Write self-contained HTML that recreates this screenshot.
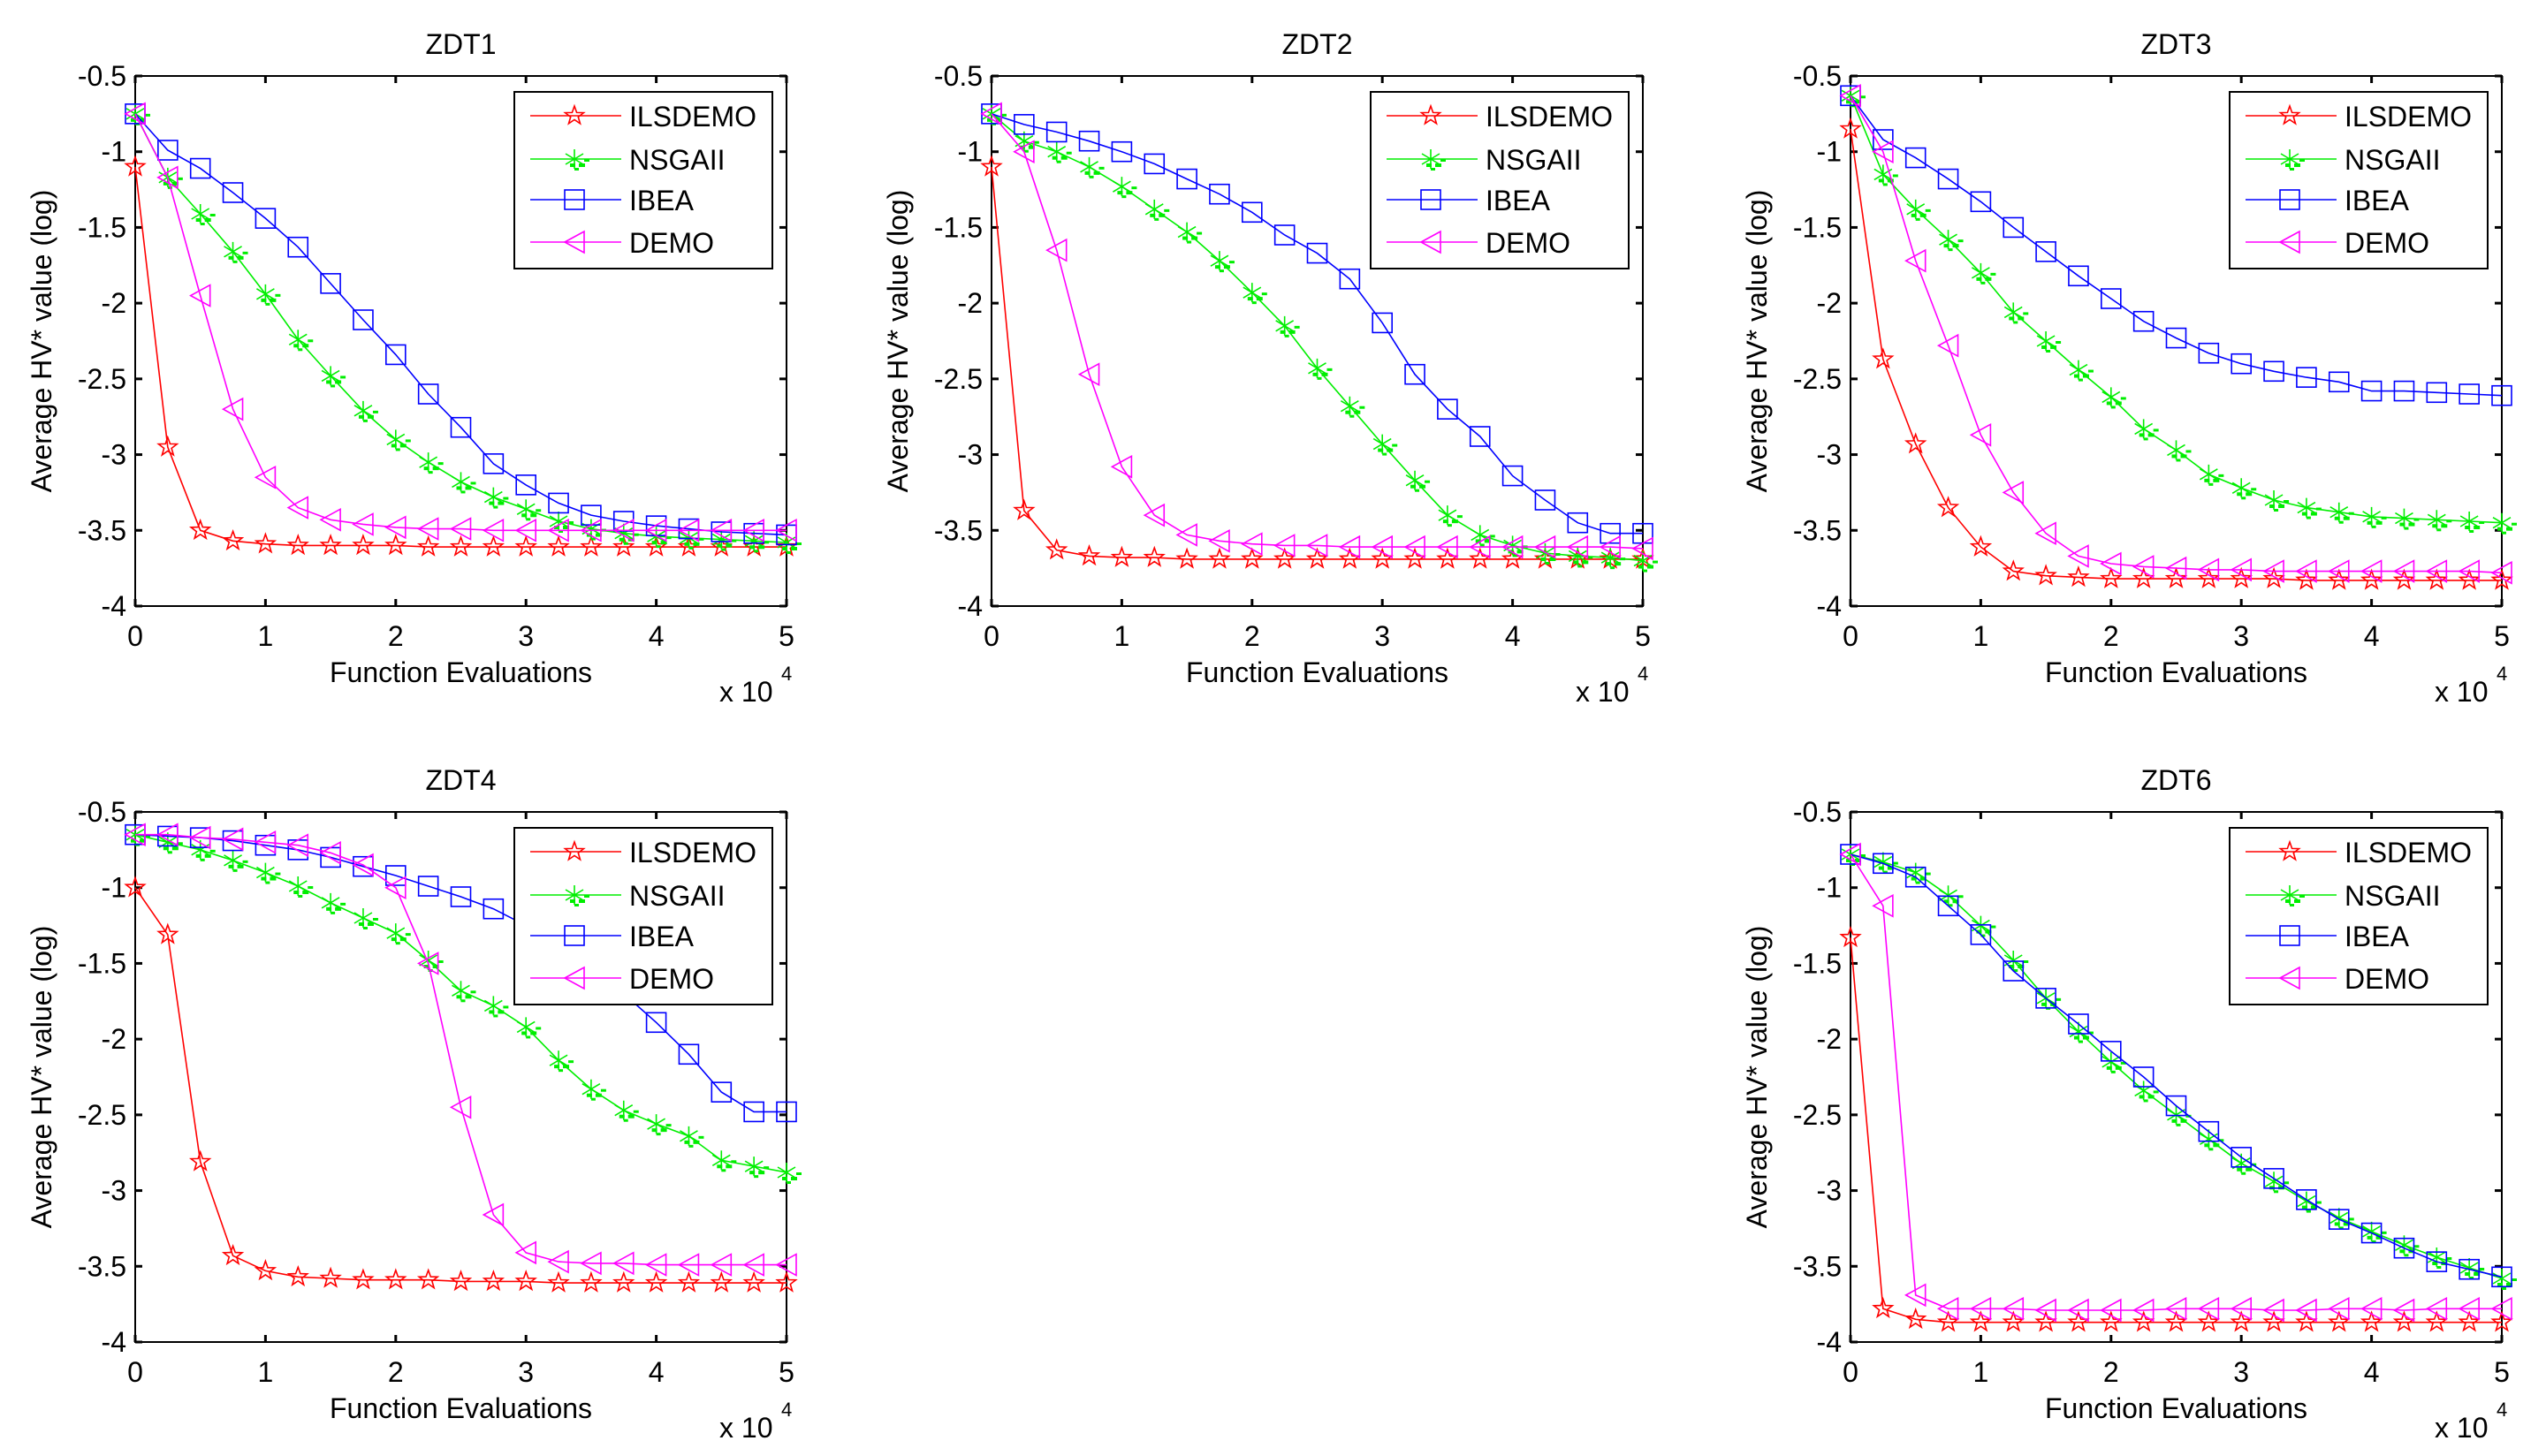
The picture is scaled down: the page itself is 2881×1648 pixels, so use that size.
<!DOCTYPE html>
<html><head><meta charset="utf-8">
<style>
html,body{margin:0;padding:0;background:#fff;}
svg{display:block;font-family:"Liberation Sans",Arial,sans-serif;}
</style></head>
<body>
<svg id="fig" width="2881" height="1648" viewBox="0 0 2881 1648" xmlns="http://www.w3.org/2000/svg"></svg>
<script>
const xEvals = [0,2500,5000,7500,10000,12500,15000,17500,20000,22500,25000,27500,30000,32500,35000,37500,40000,42500,45000,47500,50000];
const seriesNames = ["ILSDEMO","NSGAII","IBEA","DEMO"];
const xTicks = [0,1,2,3,4,5];
const yTicks = [-0.5,-1,-1.5,-2,-2.5,-3,-3.5,-4];
const yTickLabels = ["-0.5","-1","-1.5","-2","-2.5","-3","-3.5","-4"];

const zdt1_ils  = [-1.1,-2.95,-3.5,-3.57,-3.59,-3.6,-3.6,-3.6,-3.6,-3.61,-3.61,-3.61,-3.61,-3.61,-3.61,-3.61,-3.61,-3.61,-3.61,-3.61,-3.61];
const zdt1_nsga = [-0.75,-1.17,-1.41,-1.66,-1.94,-2.24,-2.48,-2.71,-2.9,-3.05,-3.18,-3.28,-3.36,-3.44,-3.49,-3.52,-3.54,-3.55,-3.56,-3.57,-3.58];
const zdt1_ibea = [-0.75,-0.99,-1.11,-1.27,-1.44,-1.63,-1.87,-2.11,-2.34,-2.6,-2.82,-3.06,-3.2,-3.32,-3.4,-3.44,-3.47,-3.49,-3.51,-3.52,-3.53];
const zdt1_demo = [-0.75,-1.17,-1.95,-2.7,-3.15,-3.35,-3.43,-3.46,-3.48,-3.49,-3.49,-3.5,-3.5,-3.5,-3.5,-3.5,-3.5,-3.5,-3.5,-3.5,-3.5];

const zdt2_ils  = [-1.1,-3.37,-3.63,-3.67,-3.68,-3.68,-3.69,-3.69,-3.69,-3.69,-3.69,-3.69,-3.69,-3.69,-3.69,-3.69,-3.69,-3.69,-3.69,-3.69,-3.69];
const zdt2_nsga = [-0.75,-0.93,-1.0,-1.1,-1.23,-1.38,-1.53,-1.72,-1.93,-2.15,-2.43,-2.68,-2.93,-3.17,-3.4,-3.53,-3.6,-3.65,-3.67,-3.68,-3.7];
const zdt2_ibea = [-0.75,-0.82,-0.87,-0.93,-1.0,-1.08,-1.18,-1.28,-1.4,-1.55,-1.67,-1.84,-2.13,-2.47,-2.7,-2.88,-3.14,-3.3,-3.45,-3.52,-3.52];
const zdt2_demo = [-0.75,-1.0,-1.65,-2.47,-3.08,-3.4,-3.53,-3.57,-3.59,-3.6,-3.6,-3.61,-3.61,-3.61,-3.61,-3.61,-3.61,-3.61,-3.61,-3.61,-3.62];

const zdt3_ils  = [-0.85,-2.37,-2.93,-3.35,-3.61,-3.77,-3.8,-3.81,-3.82,-3.82,-3.82,-3.82,-3.82,-3.82,-3.83,-3.83,-3.83,-3.83,-3.83,-3.83,-3.83];
const zdt3_nsga = [-0.63,-1.15,-1.38,-1.58,-1.8,-2.06,-2.25,-2.44,-2.62,-2.83,-2.97,-3.13,-3.22,-3.3,-3.35,-3.38,-3.41,-3.42,-3.43,-3.44,-3.45];
const zdt3_ibea = [-0.63,-0.92,-1.04,-1.18,-1.33,-1.5,-1.66,-1.82,-1.97,-2.12,-2.23,-2.33,-2.4,-2.45,-2.49,-2.52,-2.58,-2.58,-2.59,-2.6,-2.61];
const zdt3_demo = [-0.63,-1.0,-1.72,-2.28,-2.87,-3.25,-3.52,-3.67,-3.72,-3.74,-3.75,-3.76,-3.76,-3.77,-3.77,-3.77,-3.77,-3.77,-3.77,-3.77,-3.78];

const zdt4_ils  = [-1.0,-1.31,-2.81,-3.43,-3.53,-3.57,-3.58,-3.59,-3.59,-3.59,-3.6,-3.6,-3.6,-3.61,-3.61,-3.61,-3.61,-3.61,-3.61,-3.61,-3.61];
const zdt4_nsga = [-0.65,-0.7,-0.75,-0.82,-0.9,-0.99,-1.1,-1.2,-1.3,-1.48,-1.68,-1.78,-1.92,-2.14,-2.33,-2.47,-2.56,-2.64,-2.8,-2.84,-2.88];
const zdt4_ibea = [-0.65,-0.66,-0.67,-0.69,-0.72,-0.75,-0.8,-0.86,-0.92,-0.99,-1.06,-1.14,-1.25,-1.38,-1.52,-1.7,-1.89,-2.1,-2.35,-2.48,-2.48];
const zdt4_demo = [-0.65,-0.65,-0.67,-0.68,-0.7,-0.72,-0.77,-0.85,-1.0,-1.5,-2.45,-3.16,-3.41,-3.47,-3.48,-3.48,-3.49,-3.49,-3.49,-3.49,-3.49];

const zdt6_ils  = [-1.33,-3.78,-3.85,-3.87,-3.87,-3.87,-3.87,-3.87,-3.87,-3.87,-3.87,-3.87,-3.87,-3.87,-3.87,-3.87,-3.87,-3.87,-3.87,-3.87,-3.87];
const zdt6_nsga = [-0.78,-0.83,-0.9,-1.05,-1.25,-1.48,-1.73,-1.95,-2.15,-2.34,-2.5,-2.66,-2.82,-2.94,-3.07,-3.18,-3.27,-3.36,-3.44,-3.51,-3.58];
const zdt6_ibea = [-0.78,-0.84,-0.93,-1.12,-1.31,-1.55,-1.73,-1.9,-2.08,-2.25,-2.44,-2.61,-2.78,-2.92,-3.06,-3.19,-3.28,-3.38,-3.47,-3.52,-3.57];
const zdt6_demo = [-0.78,-1.12,-3.69,-3.78,-3.78,-3.78,-3.79,-3.79,-3.79,-3.79,-3.78,-3.78,-3.78,-3.79,-3.79,-3.78,-3.78,-3.79,-3.78,-3.78,-3.78];

const plotTitles = ["ZDT1","ZDT2","ZDT3","ZDT4","ZDT6"];

const NS="http://www.w3.org/2000/svg";
const svg=document.getElementById('fig');
function mk(tag,attrs,parent){const e=document.createElementNS(NS,tag);for(const k in attrs)e.setAttribute(k,attrs[k]);(parent||svg).appendChild(e);return e;}
const colors=["#ff0000","#00ee00","#0000ff","#ff00ff"];
const W=737,H=600;

function marker(g,kind,cx,cy){
  const c=colors[kind];
  if(kind===0){
    let pts=[];for(let i=0;i<10;i++){const r=i%2?4.5:11;const a=-Math.PI/2+i*Math.PI/5;pts.push((cx+r*Math.cos(a)).toFixed(1)+","+(cy+r*Math.sin(a)).toFixed(1));}
    const m=mk('polygon',{points:pts.join(' '),fill:'none',stroke:c,'stroke-width':1.6},g);
    
    
  } else if(kind===1){
    const m=mk('path',{d:`M${cx} ${cy-11}V${cy+11}M${cx-10} ${cy-6}L${cx+10} ${cy+6}M${cx-10} ${cy+6}L${cx+10} ${cy-6}`,stroke:c,'stroke-width':1.6,fill:'none'},g);
    
    
    mk('rect',{x:cx-5,y:cy+5,width:6,height:4,fill:c},g);
    mk('rect',{x:cx+5,y:cy+5,width:7,height:4,fill:c},g);
    mk('rect',{x:cx+11,y:cy+0,width:6,height:3,fill:c},g);
    mk('rect',{x:cx+0,y:cy+10,width:5,height:3,fill:c},g);
  } else if(kind===2){
    const m=mk('rect',{x:cx-11,y:cy-11,width:22,height:22,fill:'none',stroke:c,'stroke-width':1.6},g);
    
    
  } else {
    const m=mk('polygon',{points:`${cx-11},${cy} ${cx+11},${cy-12} ${cx+11},${cy+12}`,fill:'none',stroke:c,'stroke-width':1.6},g);
    
    
  }
}

function drawPlot(idx,left,top,series){
  const g=mk('g',{});
  
  
  const xs=v=>left+v/50000*W;
  const ys=v=>top+(v-(-0.5))/(-3.5)*H;
  const box=mk('rect',{x:left,y:top,width:W,height:H,fill:'none',stroke:'#000','stroke-width':2},g);
  
  
  xTicks.forEach(t=>{
    const x=xs(t*10000);
    mk('line',{x1:x,y1:top+H,x2:x,y2:top+H-8,stroke:'#000','stroke-width':3},g);
    mk('line',{x1:x,y1:top,x2:x,y2:top+8,stroke:'#000','stroke-width':3},g);
    const tl=mk('text',{x:x,y:top+H+45,'font-size':32,'text-anchor':'middle',fill:'#000'},g);
    tl.textContent=String(t);
    
    
  });
  yTicks.forEach((t,i)=>{
    const y=ys(t);
    mk('line',{x1:left,y1:y,x2:left+8,y2:y,stroke:'#000','stroke-width':3},g);
    mk('line',{x1:left+W,y1:y,x2:left+W-8,y2:y,stroke:'#000','stroke-width':3},g);
    const tl=mk('text',{x:left-10,y:y+11,'font-size':32,'text-anchor':'end',fill:'#000'},g);
    tl.textContent=yTickLabels[i];
    
    
  });
  const title=mk('text',{x:left+W/2,y:top-25,'font-size':32,'text-anchor':'middle',fill:'#000'},g);
  title.textContent=plotTitles[idx];
  
  
  const xl=mk('text',{x:left+W/2,y:top+H+86,'font-size':32,'text-anchor':'middle',fill:'#000'},g);
  xl.textContent='Function Evaluations';
  
  
  const xm=mk('text',{x:left+W-76,y:top+H+108,'font-size':32,fill:'#000'},g);
  xm.textContent='x 10';
  
  
  const ex=mk('text',{x:left+W-6,y:top+H+84,'font-size':22,fill:'#000'},g);
  ex.textContent='4';
  
  
  const yl=mk('text',{x:0,y:0,'font-size':32,'text-anchor':'middle',fill:'#000',transform:`translate(${left-95},${top+H/2}) rotate(-90)`},g);
  yl.textContent='Average HV* value (log)';
  
  
  series.forEach((vals,k)=>{
    const sg=mk('g',{},g);
    
    
    const pts=vals.map((v,i)=>xs(xEvals[i]).toFixed(1)+','+ys(v).toFixed(1)).join(' ');
    const pl=mk('polyline',{points:pts,fill:'none',stroke:colors[k],'stroke-width':1.6},sg);
    
    
    vals.forEach((v,i)=>marker(sg,k,xs(xEvals[i]),ys(v)));
  });
  const lg=mk('g',{},g);
  
  
  const lx=left+429, ly=top+18;
  mk('rect',{x:lx,y:ly,width:292,height:200,fill:'#fff',stroke:'#000','stroke-width':2},lg);
  const rowY=[45,94,140,188];
  seriesNames.forEach((n,k)=>{
    const eg=mk('g',{},lg);
    
    
    const yc=top+rowY[k];
    mk('line',{x1:lx+18,y1:yc,x2:lx+121,y2:yc,stroke:colors[k],'stroke-width':1.6},eg);
    marker(eg,k,lx+68,yc);
    const t=mk('text',{x:lx+130,y:yc+12,'font-size':32,fill:'#000'},eg);
    t.textContent=n;
    
    
  });
}

drawPlot(0,153,86,[zdt1_ils,zdt1_nsga,zdt1_ibea,zdt1_demo]);
drawPlot(1,1122,86,[zdt2_ils,zdt2_nsga,zdt2_ibea,zdt2_demo]);
drawPlot(2,2094,86,[zdt3_ils,zdt3_nsga,zdt3_ibea,zdt3_demo]);
drawPlot(3,153,919,[zdt4_ils,zdt4_nsga,zdt4_ibea,zdt4_demo]);
drawPlot(4,2094,919,[zdt6_ils,zdt6_nsga,zdt6_ibea,zdt6_demo]);
</script>
</body></html>
